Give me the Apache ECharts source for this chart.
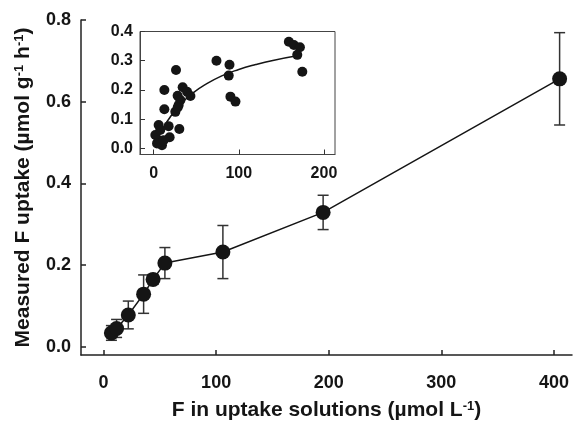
<!DOCTYPE html>
<html>
<head>
<meta charset="utf-8">
<script src="https://cdn.jsdelivr.net/npm/echarts@6/dist/echarts.min.js"></script>
<style>html,body{margin:0;padding:0;background:#fff}#c{width:573px;height:426px}</style>
</head>
<body>
<div id="c"></div>
<script>
// Main chart data
const mainX = [7, 11.6, 22, 35.6, 44, 54.5, 106, 195, 405];
const mainY = [0.034, 0.045, 0.078, 0.129, 0.165, 0.205, 0.232, 0.329, 0.656];
const mainErr = [0.018, 0.022, 0.034, 0.047, 0.012, 0.038, 0.065, 0.042, 0.113];
const mainXTicks = [0, 100, 200, 300, 400];
const mainYTicks = [0, 0.2, 0.4, 0.6, 0.8];

// Inset data
const insetX = [73.8, 89.1, 88.2, 90.2, 96.1, 26.3, 12.6, 34.1, 39.3, 43.2, 28.2, 31.4, 29.4, 25.5, 12.6, 28.2,
  17.6, 5.9, 30.2, 18.8, 2, 7.8, 5.9, 9.8, 4, 11.8, 158.8, 164.7, 171.8, 168.7, 174.6];
const insetY = [0.300, 0.286, 0.249, 0.177, 0.160, 0.268, 0.200, 0.209, 0.194, 0.179, 0.180, 0.165, 0.148, 0.125, 0.134, 0.140,
  0.076, 0.080, 0.066, 0.038, 0.046, 0.063, 0.028, 0.011, 0.017, 0.028, 0.365, 0.354, 0.346, 0.320, 0.262];
const curveX = [8, 15, 25, 35, 45, 60, 80, 100, 120, 140, 167];
const curveY = [0.052, 0.088, 0.129, 0.161, 0.187, 0.217, 0.248, 0.270, 0.287, 0.301, 0.316];
const insetXTicks = [0, 100, 200];
const insetYTicks = [0, 0.1, 0.2, 0.3, 0.4];

const FONT = 'Liberation Sans, Arial, sans-serif';
const INK = '#151515';

const chart = echarts.init(document.getElementById('c'), null, {renderer: 'canvas'});

function errBar(params, api) {
  const x = api.value(0), lo = api.value(1), hi = api.value(2);
  const p1 = api.coord([x, lo]);
  const p2 = api.coord([x, hi]);
  const w = 5.5;
  const st = {stroke: '#333', lineWidth: 1.5};
  return {
    type: 'group',
    children: [
      {type: 'line', shape: {x1: p1[0], y1: p1[1], x2: p2[0], y2: p2[1]}, style: st},
      {type: 'line', shape: {x1: p1[0] - w, y1: p1[1], x2: p1[0] + w, y2: p1[1]}, style: st},
      {type: 'line', shape: {x1: p2[0] - w, y1: p2[1], x2: p2[0] + w, y2: p2[1]}, style: st}
    ]
  };
}

const axisLine = {show: true, onZero: false, lineStyle: {color: '#222', width: 1.5}};
const supStyle = {fontFamily: FONT, fontWeight: 'bold', fontSize: 13, color: INK, verticalAlign: 'top'};

const option = {
  animation: false,
  backgroundColor: '#fff',
  grid: [
    {left: 81, top: 20, width: 491, height: 336, containLabel: false},
    {left: 140, top: 31.5, width: 195, height: 123, show: true, borderColor: '#444', borderWidth: 1, backgroundColor: '#fff', z: 5}
  ],
  xAxis: [
    {
      type: 'value', gridIndex: 0, min: -20, max: 416,
      axisLine: axisLine,
      axisTick: {show: true, inside: true, length: 5, lineStyle: {color: '#222', width: 1.5}, customValues: mainXTicks},
      axisLabel: {customValues: mainXTicks, fontFamily: FONT, fontWeight: 'bold', fontSize: 18, color: INK, margin: 19},
      splitLine: {show: false},
      name: 'F in uptake solutions (µmol L{sup|-1})',
      nameLocation: 'middle', nameGap: 45,
      nameTextStyle: {fontFamily: FONT, fontWeight: 'bold', fontSize: 21, color: INK, rich: {sup: supStyle}}
    },
    {
      type: 'value', gridIndex: 1, min: -16, max: 213,
      axisLine: {show: true, onZero: false, lineStyle: {color: '#444', width: 1}},
      axisTick: {show: true, inside: true, length: 5, lineStyle: {color: '#333', width: 1}, customValues: insetXTicks},
      axisLabel: {customValues: insetXTicks, fontFamily: FONT, fontWeight: 'bold', fontSize: 16, color: INK, margin: 11},
      splitLine: {show: false}, z: 6
    }
  ],
  yAxis: [
    {
      type: 'value', gridIndex: 0, min: -0.02, max: 0.8,
      axisLine: axisLine,
      axisTick: {show: true, inside: true, length: 5, lineStyle: {color: '#222', width: 1.5}, customValues: mainYTicks},
      axisLabel: {customValues: mainYTicks, formatter: v => v.toFixed(1), fontFamily: FONT, fontWeight: 'bold', fontSize: 18, color: INK, margin: 10},
      splitLine: {show: false},
      name: 'Measured F uptake (µmol g{sup|-1} h{sup|-1})',
      nameLocation: 'middle', nameGap: 47, nameRotate: 90,
      nameTextStyle: {fontFamily: FONT, fontWeight: 'bold', fontSize: 21, color: INK, rich: {sup: supStyle}}
    },
    {
      type: 'value', gridIndex: 1, min: -0.021, max: 0.4,
      axisLine: {show: true, onZero: false, lineStyle: {color: '#444', width: 1}},
      axisTick: {show: true, inside: true, length: 5, lineStyle: {color: '#333', width: 1}, customValues: insetYTicks},
      axisLabel: {customValues: insetYTicks, formatter: v => v.toFixed(1), fontFamily: FONT, fontWeight: 'bold', fontSize: 16, color: INK, margin: 7},
      splitLine: {show: false}, z: 6
    }
  ],
  series: [
    {
      type: 'custom', xAxisIndex: 0, yAxisIndex: 0, renderItem: errBar, z: 2,
      encode: {x: 0, y: [1, 2]},
      data: mainX.map((x, i) => [x, mainY[i] - mainErr[i], mainY[i] + mainErr[i]])
    },
    {
      type: 'line', xAxisIndex: 0, yAxisIndex: 0, z: 3,
      data: mainX.map((x, i) => [x, mainY[i]]),
      symbol: 'circle', symbolSize: 15,
      itemStyle: {color: INK},
      lineStyle: {color: INK, width: 1.5}
    },
    {
      type: 'line', xAxisIndex: 1, yAxisIndex: 1, z: 7,
      data: curveX.map((x, i) => [x, curveY[i]]),
      smooth: true, showSymbol: false, symbol: 'none',
      lineStyle: {color: INK, width: 1.5}
    },
    {
      type: 'scatter', xAxisIndex: 1, yAxisIndex: 1, z: 8,
      data: insetX.map((x, i) => [x, insetY[i]]),
      symbol: 'circle', symbolSize: 10,
      itemStyle: {color: INK, opacity: 1}
    }
  ]
};
chart.setOption(option);
</script>
</body>
</html>
